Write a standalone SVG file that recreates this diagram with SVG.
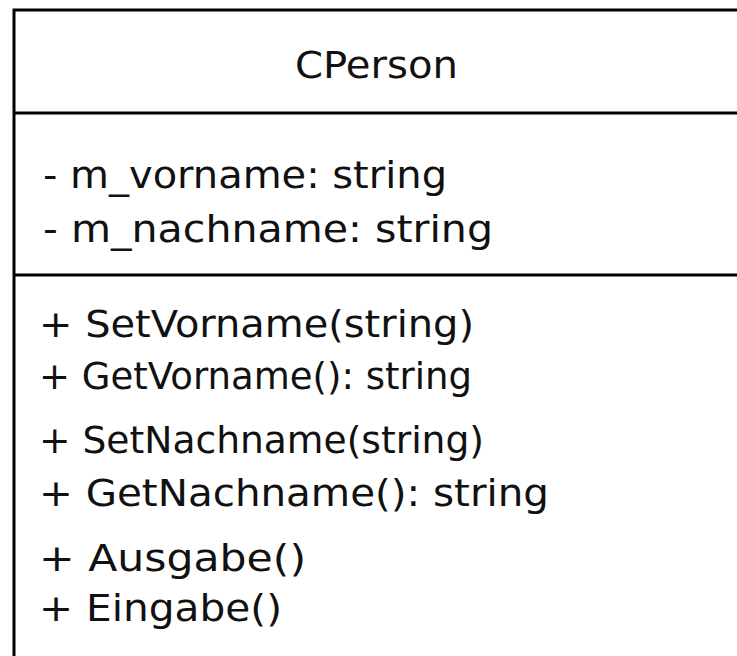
<svg xmlns="http://www.w3.org/2000/svg" width="737" height="656" viewBox="0 0 737 656">
  <style>
    .frame { fill: none; stroke: #000; stroke-width: 3; }
    .txt { font-family: "DejaVu Sans", "Liberation Sans", sans-serif; font-size: 38px; fill: #111; }
    .title { text-anchor: middle; }
  </style>
  <rect width="737" height="656" fill="#fff"/>
  <g id="class-CPerson">
    <!-- outer frame: top edge, left edge; right and bottom run off the canvas -->
    <path class="frame" d="M14,10 H740 M14,8.5 V660"/>
    <!-- compartment dividers -->
    <path class="frame" d="M14,113 H740 M14,275 H740"/>
    <text class="txt title" x="376.5" y="78" textLength="163" lengthAdjust="spacingAndGlyphs">CPerson</text>
    <g id="attributes">
      <text class="txt" x="43" y="188" textLength="404" lengthAdjust="spacingAndGlyphs">- m_vorname: string</text>
      <text class="txt" x="43" y="242" textLength="450" lengthAdjust="spacingAndGlyphs">- m_nachname: string</text>
    </g>
    <g id="operations">
      <text class="txt" x="39" y="337" textLength="435" lengthAdjust="spacingAndGlyphs">+ SetVorname(string)</text>
      <text class="txt" x="39" y="389" textLength="433" lengthAdjust="spacingAndGlyphs">+ GetVorname(): string</text>
      <text class="txt" x="39" y="453" textLength="445" lengthAdjust="spacingAndGlyphs">+ SetNachname(string)</text>
      <text class="txt" x="39" y="506" textLength="510" lengthAdjust="spacingAndGlyphs">+ GetNachname(): string</text>
      <text class="txt" x="39" y="571" textLength="267" lengthAdjust="spacingAndGlyphs">+ Ausgabe()</text>
      <text class="txt" x="39" y="621" textLength="243" lengthAdjust="spacingAndGlyphs">+ Eingabe()</text>
    </g>
  </g>
</svg>
